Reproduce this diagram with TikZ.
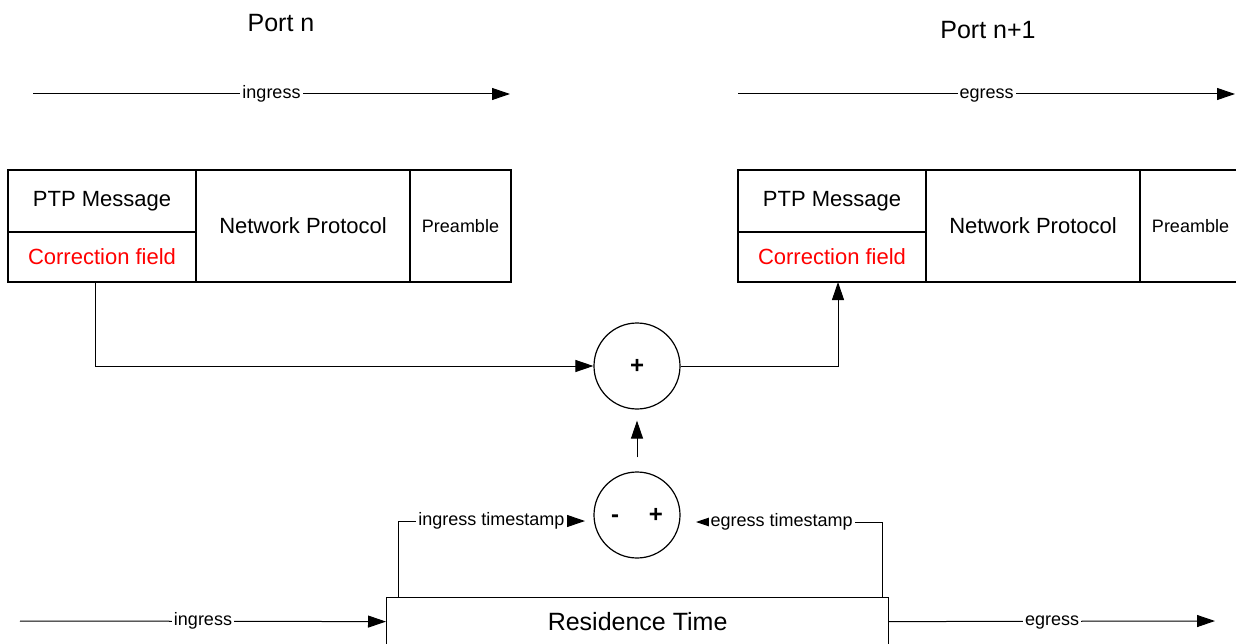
\documentclass[tikz,border=0pt]{standalone}
\usepackage{fontspec}
\setmainfont{Liberation Sans}
\usetikzlibrary{arrows.meta,positioning}
\tikzset{
  flow/.style={draw,line width=1pt,-{Triangle[length=18pt,width=12pt]}},
  lbl/.style={fill=white,inner sep=2pt,text height=13pt,text depth=4pt,
    font=\fontsize{18}{20}\selectfont},
  cell/.style={draw,line width=1.2pt,rectangle,inner sep=0pt,outer sep=0pt,
    anchor=north west,font=\fontsize{22}{26}\selectfont},
  sumnode/.style={draw,line width=1.2pt,circle,minimum size=86pt,inner sep=0pt,
    font=\fontsize{24}{26}\selectfont\bfseries},
  title/.style={font=\fontsize{25}{28}\selectfont}
}
\begin{document}
\begin{tikzpicture}[x=1pt,y=-1pt]
\useasboundingbox (0,0) rectangle (1236,644);

% port titles
\node[title] (portL) at (281,23) {Port n};
\node[title] (portR) at (988,30) {Port n+1};

% direction arrows on top
\coordinate (inA) at (33,94);
\coordinate (inB) at (510,94);
\coordinate (egA) at (738,94);
\coordinate (egB) at (1235,94);
\path[flow] (inA) -- node[lbl] {ingress} (inB);
\path[flow] (egA) -- node[lbl] {egress} (egB);

% frame at port n
\node[cell,minimum width=188pt,minimum height=62pt] (ptpL) at (8,170) {PTP Message};
\node[cell,minimum width=188pt,minimum height=50pt,text=red] (corrL) at (ptpL.south west) {Correction field};
\node[cell,minimum width=214pt,minimum height=112pt] (netL) at (ptpL.north east) {Network Protocol};
\node[cell,minimum width=101pt,minimum height=112pt,font=\fontsize{18}{20}\selectfont] (preL) at (netL.north east) {Preamble};

% frame at port n+1
\node[cell,minimum width=188pt,minimum height=62pt] (ptpR) at (738,170) {PTP Message};
\node[cell,minimum width=188pt,minimum height=50pt,text=red] (corrR) at (ptpR.south west) {Correction field};
\node[cell,minimum width=214pt,minimum height=112pt] (netR) at (ptpR.north east) {Network Protocol};
\node[cell,minimum width=101pt,minimum height=112pt,font=\fontsize{18}{20}\selectfont] (preR) at (netR.north east) {Preamble};

% adders
\node[sumnode] (sum) at (637,366) {+};
\node[sumnode] (diff) at (637,515) {-\hspace{30pt}+};

% residence time
\node[draw,line width=1.2pt,minimum width=502pt,minimum height=48pt,anchor=north west,
  font=\fontsize{25}{28}\selectfont] (res) at (386,597) {Residence Time};

% connectors
\path[flow] ([xshift=-7pt]corrL.south) |- (sum.west);
\path[flow] (sum.east) -| ([xshift=6pt]corrR.south);
\path[flow] ([yshift=14pt]diff.north) -- ([yshift=-11pt]sum.south);

\coordinate (inT) at (585,521);
\coordinate (egT) at (696,522);
\path[flow] ([xshift=12pt]res.north west) |- node[lbl,pos=0.75] {ingress timestamp} (inT);
\path[flow] ([xshift=-7pt]res.north east) |- node[lbl,pos=0.77] {egress timestamp} (egT);

\coordinate (inC) at (20,621);
\coordinate (egC) at (1215,621);
\path[flow] (inC) -- node[lbl] {ingress} (res.west);
\path[flow] (res.east) -- node[lbl] {egress} (egC);
\end{tikzpicture}
\end{document}
